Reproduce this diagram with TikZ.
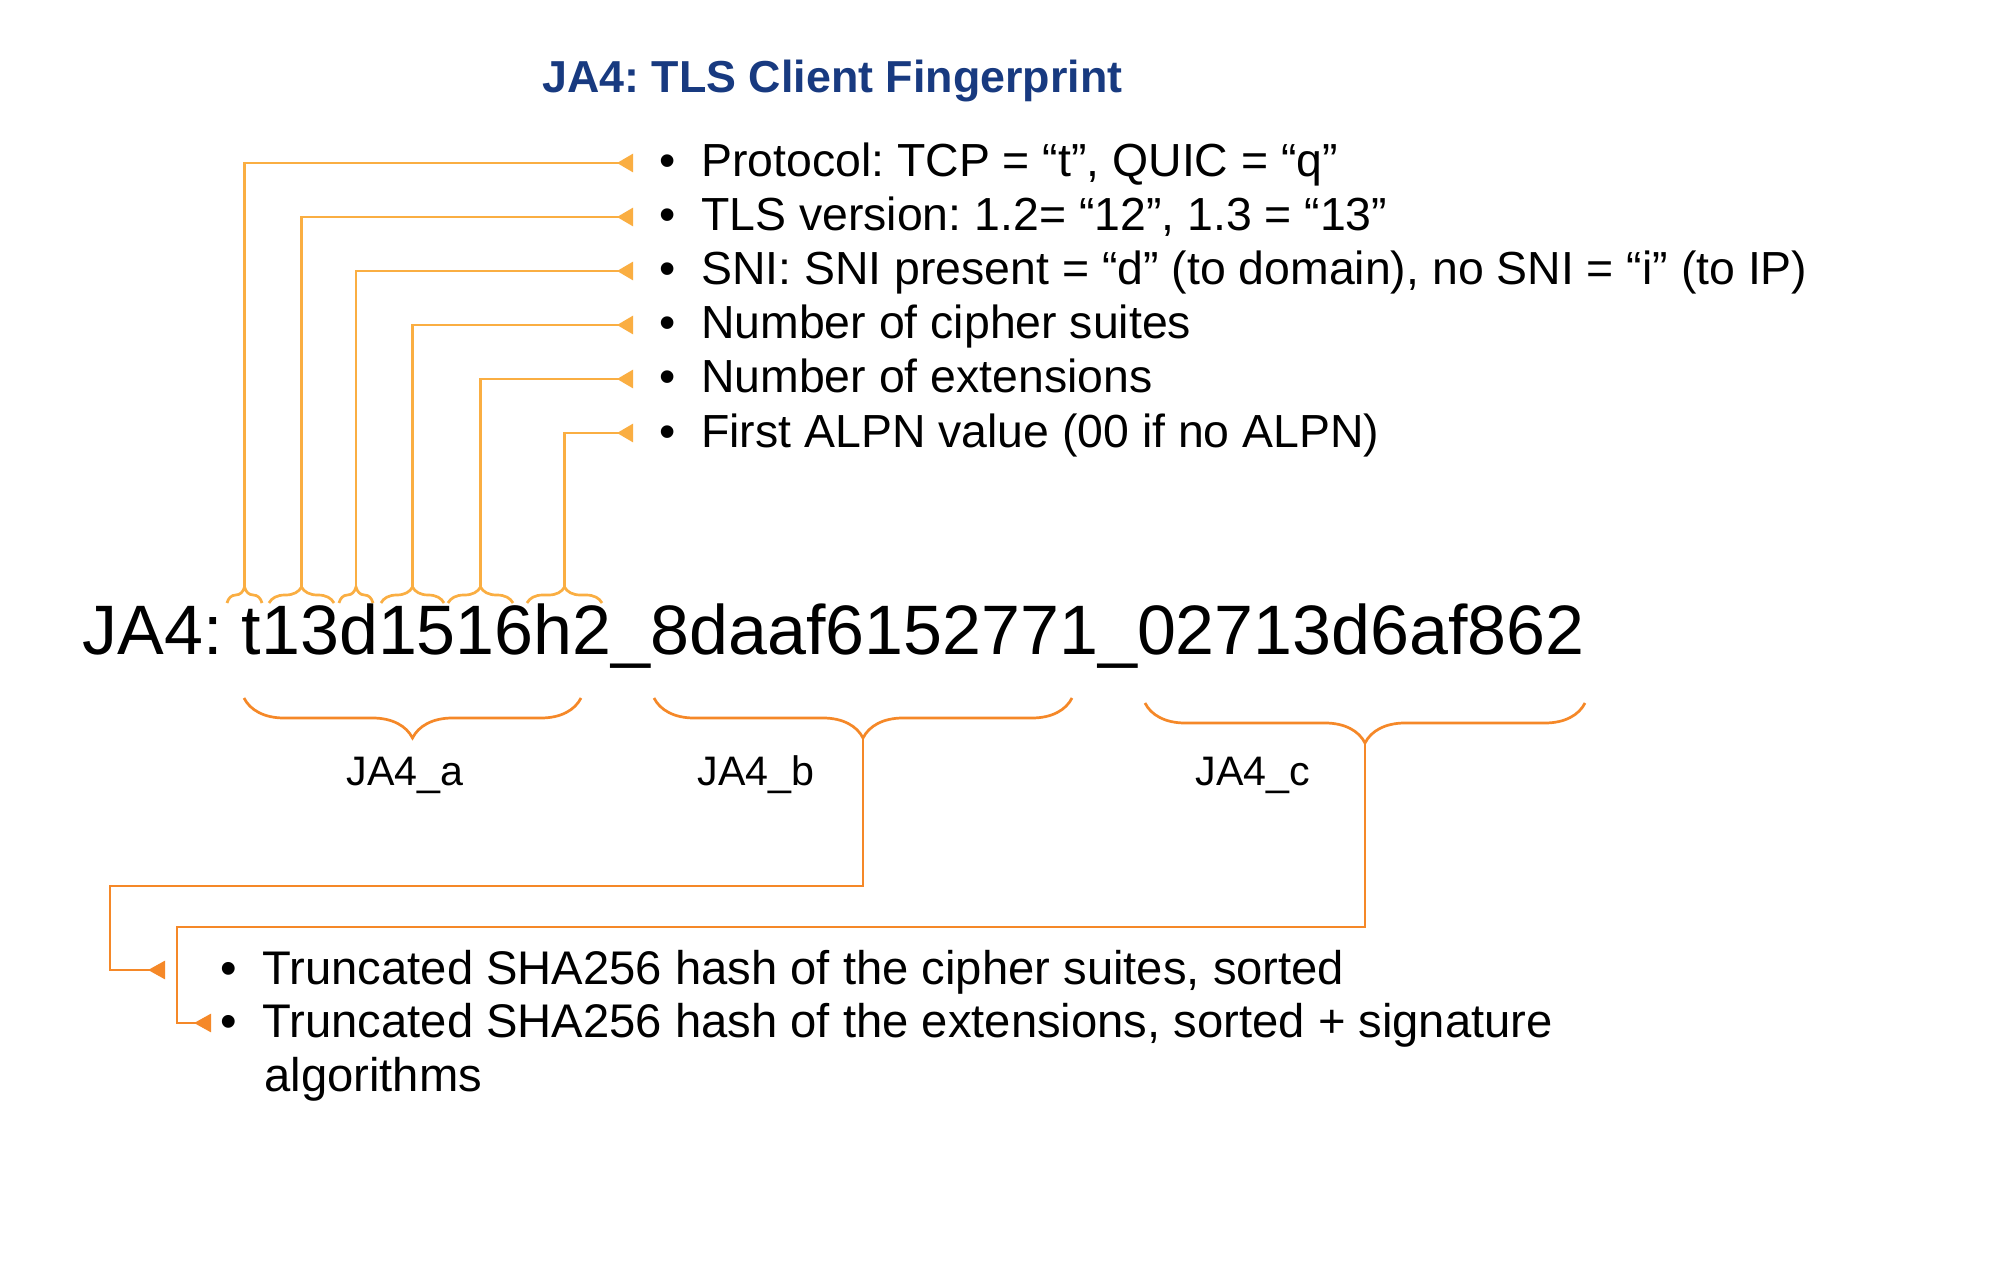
\documentclass[tikz,border=0pt]{standalone}
\usepackage{fontspec}
\setmainfont{Liberation Sans}
\usetikzlibrary{calc}
\usetikzlibrary{arrows.meta}
\usetikzlibrary{decorations.pathreplacing}

\definecolor{jaorange}{RGB}{250,174,66}
\definecolor{jadark}{RGB}{245,136,40}
\definecolor{jablue}{RGB}{24,58,128}

\frenchspacing
\newcommand{\bul}{\textbullet\hspace{12.8pt}}

\tikzset{
  item/.style={anchor=west, inner sep=0pt, text height=18pt, text depth=4pt,
    font=\fontsize{23.2}{27}\selectfont},
  lbl/.style={anchor=base, inner sep=0pt, font=\fontsize{20.6}{24}\selectfont},
  topline/.style={draw=jaorange, line width=1.35pt,
    -{Triangle[reversed, length=8pt, width=9pt]}, shorten >=13pt},
  botline/.style={draw=jadark, line width=1.35pt,
    -{Triangle[reversed, length=8.5pt, width=9pt]}},
  smallbrace/.style={draw=jaorange, line width=1.35pt, decorate,
    decoration={brace, amplitude=8pt}},
  bigbrace/.style={draw=jadark, line width=1.35pt, decorate,
    decoration={brace, mirror, amplitude=20pt}},
}

\begin{document}
\begin{tikzpicture}[x=0.5pt, y=-0.5pt]
  \fill[white] (0,0) rectangle (1999,1273);

  \node[anchor=base west, inner sep=0pt, text=jablue,
    font=\fontsize{22.4}{27}\selectfont\bfseries] (title) at (542,93)
    {JA4: TLS Client Fingerprint};

  \node[item] (p1) at (659,163) {\bul Protocol: TCP = “t”, QUIC = “q”};
  \node[item] (p2) at (659,217) {\bul TLS version: 1.2= “12”, 1.3 = “13”};
  \node[item] (p3) at (659,271) {\bul SNI: SNI present = “d” (to domain), no SNI = “i” (to IP)};
  \node[item] (p4) at (659,325) {\bul Number of cipher suites};
  \node[item] (p5) at (659,379) {\bul Number of extensions};
  \node[item] (p6) at (659,433) {\bul First ALPN value (00 if no ALPN)};

  \node[anchor=base west, inner sep=0pt, font=\fontsize{35}{40}\selectfont] (fp)
    at (82,654) {JA4: t13d1516h2\_8daaf6152771\_02713d6af862};

  \foreach \l/\r [count=\i] in {227/262, 269/334, 339/373, 381/444, 448/513, 527/602} {
    \draw[smallbrace] (\l,603) -- (\r,603);
    \coordinate (t\i) at ({(\l+\r)/2},587);
  }
  \foreach \i in {1,...,6}
    \draw[topline] (t\i) |- (p\i.west);

  \draw[bigbrace] (244,698) -- (581,698);
  \draw[bigbrace] (654,698) -- (1072,698);
  \draw[bigbrace] (1145,703) -- (1585,703);
  \coordinate (ta) at (412.5,738);
  \coordinate (tb) at (863,738);
  \coordinate (tc) at (1365,743);

  \node[lbl] (la) at (405,785) {JA4\_a};
  \node[lbl] (lb) at (756,785) {JA4\_b};
  \node[lbl] (lc) at (1253,785) {JA4\_c};

  \node[item, font=\fontsize{23.6}{27}\selectfont] (s1) at (220,970)
    {\bul Truncated SHA256 hash of the cipher suites, sorted};
  \node[item, font=\fontsize{23.6}{27}\selectfont] (s2) at (220,1023)
    {\bul Truncated SHA256 hash of the extensions, sorted + signature};
  \node[item, font=\fontsize{23.6}{27}\selectfont] (s3) at (264,1077) {algorithms};

  \draw[botline, shorten >=27.5pt] (tb) |- (110,886) |- (s1.west);
  \draw[botline, shorten >=4.5pt] (tc) |- (177,927) |- (s2.west);
\end{tikzpicture}
\end{document}
